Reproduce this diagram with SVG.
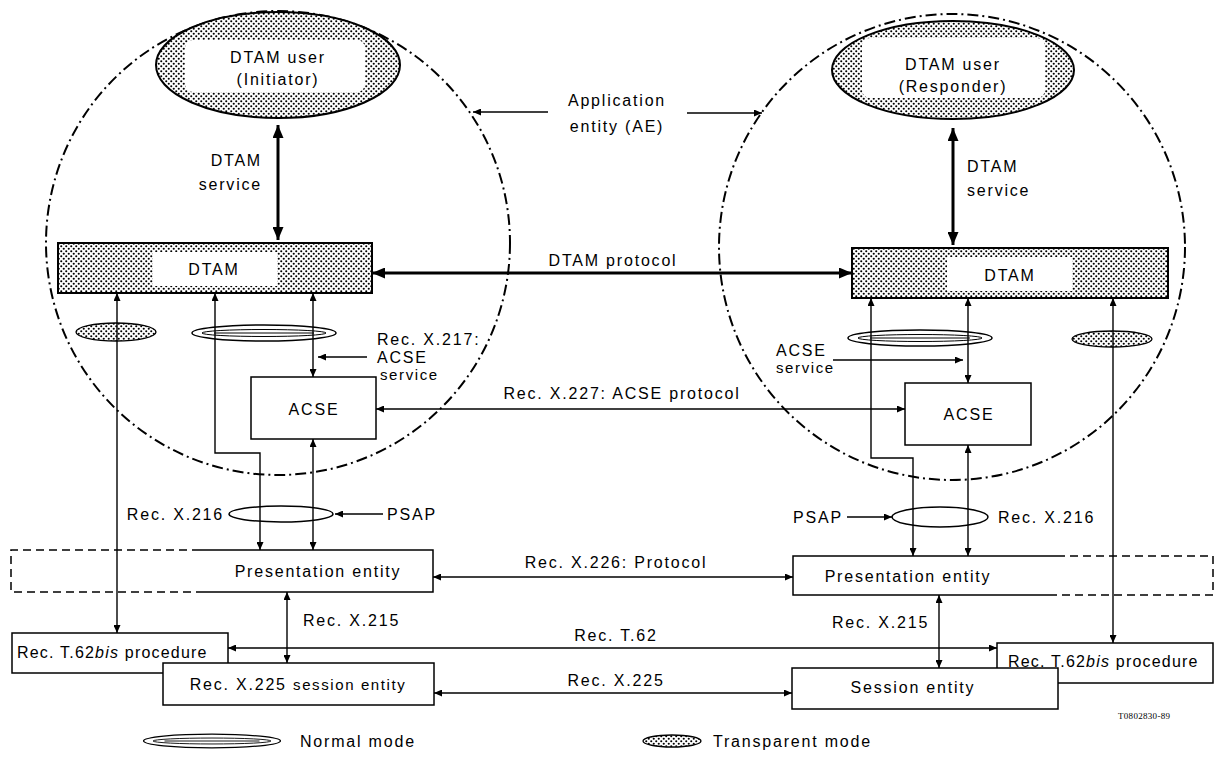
<svg xmlns="http://www.w3.org/2000/svg" xmlns:xlink="http://www.w3.org/1999/xlink" width="1215" height="765" viewBox="0 0 1215 765">
<style>
text{font-family:"Liberation Sans",Arial,sans-serif;font-size:16px;fill:#000;letter-spacing:1.8px}
.sm{font-size:15px;letter-spacing:1.6px}
.t62{letter-spacing:1.2px}
.tiny{font-size:9px;letter-spacing:0.3px;font-family:"Liberation Serif",serif}
.mid{text-anchor:middle}
.end{text-anchor:end}
.ae{fill:none;stroke:#000;stroke-width:2;stroke-dasharray:11 4 2 4}
.box{fill:#fff;stroke:#000;stroke-width:1.5}
.open{fill:none;stroke:#000;stroke-width:1.5}
.dash{fill:none;stroke:#000;stroke-width:1.5;stroke-dasharray:8 5}
.pat{fill:url(#dots);stroke:#000;stroke-width:2}
.trans{fill:url(#dots);stroke:#000;stroke-width:1.3}
.white{fill:#fff;stroke:none}
.thin{fill:none;stroke:#000;stroke-width:1.4;marker-start:url(#as);marker-end:url(#as)}
.one{fill:none;stroke:#000;stroke-width:1.4;marker-end:url(#as)}
.thick{fill:none;stroke:#000;stroke-width:3;marker-start:url(#ah);marker-end:url(#ah)}
</style>
<defs>
<pattern id="dots" width="5" height="5" patternUnits="userSpaceOnUse">
<rect width="5" height="5" fill="#fff"/>
<circle cx="1.25" cy="1.25" r="1.05" fill="#000"/>
<circle cx="3.75" cy="3.75" r="1.05" fill="#000"/>
</pattern>
<marker id="ah" viewBox="0 0 13 11" refX="13" refY="5.5" markerWidth="13" markerHeight="11" markerUnits="userSpaceOnUse" orient="auto-start-reverse">
<path d="M0,0 L13,5.5 L0,11 z" fill="#000"/>
</marker>
<marker id="as" viewBox="0 0 8 7" refX="8" refY="3.5" markerWidth="8" markerHeight="7" markerUnits="userSpaceOnUse" orient="auto-start-reverse">
<path d="M0,0 L8,3.5 L0,7 z" fill="#000"/>
</marker>
<g id="nm">
<ellipse cx="0" cy="0" rx="72" ry="8" fill="#fff" stroke="#000" stroke-width="1.5"/>
<ellipse cx="0" cy="0" rx="62" ry="3.5" fill="none" stroke="#000" stroke-width="1"/>
<line x1="-50" y1="0" x2="50" y2="0" stroke="#000" stroke-width="1"/>
</g>
</defs>

<g id="ae-left"><circle class="ae" cx="278" cy="243" r="232"/></g>
<g id="ae-right"><circle class="ae" cx="952" cy="247" r="233"/></g>

<g id="user-initiator">
<ellipse class="pat" cx="278" cy="65" rx="122" ry="53"/>
<rect class="white" x="185" y="40" width="180" height="52" rx="8"/>
<text class="mid" x="278" y="63">DTAM user</text>
<text class="mid" x="278" y="85">(Initiator)</text>
</g>
<g id="user-responder">
<ellipse class="pat" cx="953" cy="70" rx="121" ry="49"/>
<rect class="white" x="862" y="38" width="183" height="60" rx="8"/>
<text class="mid" x="953" y="70">DTAM user</text>
<text class="mid" x="953" y="92">(Responder)</text>
</g>

<g id="dtam-left">
<rect class="pat" x="58" y="243" width="314" height="50"/>
<rect class="white" x="153" y="252" width="124" height="34"/>
<text class="mid" x="214" y="275">DTAM</text>
</g>
<g id="dtam-right">
<rect class="pat" x="852" y="248" width="316" height="50"/>
<rect class="white" x="947" y="257" width="125" height="34"/>
<text class="mid" x="1010" y="281">DTAM</text>
</g>

<g id="acse-left">
<rect class="box" x="251" y="377" width="125" height="62"/>
<text class="mid" x="314" y="415">ACSE</text>
</g>
<g id="acse-right">
<rect class="box" x="905" y="383" width="126" height="62"/>
<text class="mid" x="969" y="420">ACSE</text>
</g>

<g id="modes-left">
<ellipse class="trans" cx="116" cy="332" rx="40" ry="9"/>
<use xlink:href="#nm" href="#nm" x="264" y="333"/>
<ellipse class="open" cx="281" cy="514" rx="52" ry="8"/>
</g>
<g id="modes-right">
<ellipse class="trans" cx="1112" cy="339" rx="40" ry="8"/>
<use xlink:href="#nm" href="#nm" x="920" y="338"/>
<ellipse class="open" cx="940" cy="517" rx="48" ry="10"/>
</g>

<g id="pres-left">
<path class="dash" d="M200,550 H11 V592 H200"/>
<path class="open" d="M200,550 H433 V592 H200"/>
<text class="mid" x="318" y="577">Presentation entity</text>
</g>
<g id="pres-right">
<path class="open" d="M1057,556 H793 V595 H1057"/>
<path class="dash" d="M1057,556 H1213 V595 H1057"/>
<text class="mid" x="908" y="582">Presentation entity</text>
</g>

<g id="t62-left">
<rect class="box" x="12" y="633" width="216" height="40"/>
<text class="t62" x="17" y="658">Rec. T.62<tspan font-style="italic">bis</tspan> procedure</text>
</g>
<g id="t62-right">
<rect class="box" x="997" y="643" width="216" height="40"/>
<text class="t62" x="1008" y="667">Rec. T.62<tspan font-style="italic">bis</tspan> procedure</text>
</g>
<g id="session-left">
<rect class="box" x="163" y="663" width="271" height="42"/>
<text class="mid" x="298" y="690">Rec. X.225 <tspan class="sm">session entity</tspan></text>
</g>
<g id="session-right">
<rect class="box" x="792" y="668" width="266" height="41"/>
<text class="mid" x="913" y="693">Session entity</text>
</g>

<g id="connectors">
<path class="thick" d="M278,125 V240"/>
<path class="thick" d="M953,128 V245"/>
<path class="thick" d="M372,273 H852"/>
<path class="one" d="M548,112 H473"/>
<path class="one" d="M687,113 H762"/>
<path class="thin" d="M117,293 V633"/>
<path class="thin" d="M215,293 V453 H260 V550"/>
<path class="thin" d="M313,293 V377"/>
<path class="thin" d="M313,439 V550"/>
<path class="one" d="M367,357 H318"/>
<path class="thin" d="M871,298 V458 H913 V556"/>
<path class="thin" d="M968,298 V383"/>
<path class="thin" d="M968,445 V556"/>
<path class="thin" d="M1113,298 V643"/>
<path class="one" d="M833,360 H963"/>
<path class="thin" d="M376,409 H905"/>
<path class="one" d="M383,514 H335"/>
<path class="one" d="M847,517 H892"/>
<path class="thin" d="M433,577 H793"/>
<path class="thin" d="M287,592 V663"/>
<path class="thin" d="M939,595 V668"/>
<path class="thin" d="M228,648 H997"/>
<path class="thin" d="M434,693 H792"/>
</g>

<g id="labels">
<text class="mid" x="617" y="106">Application</text>
<text class="mid" x="617" y="132">entity (AE)</text>
<text class="end" x="262" y="166">DTAM</text>
<text class="end" x="262" y="190">service</text>
<text x="967" y="172">DTAM</text>
<text x="967" y="196">service</text>
<text class="mid" x="613" y="266">DTAM protocol</text>
<text x="377" y="345">Rec. X.217:</text>
<text x="377" y="363">ACSE</text>
<text class="sm" x="380" y="380">service</text>
<text x="776" y="356">ACSE</text>
<text class="sm" x="776" y="373">service</text>
<text class="mid" x="622" y="399">Rec. X.227: ACSE protocol</text>
<text class="end" x="224" y="520">Rec. X.216</text>
<text x="387" y="520">PSAP</text>
<text class="end" x="843" y="523">PSAP</text>
<text x="998" y="523">Rec. X.216</text>
<text class="mid" x="616" y="568">Rec. X.226: Protocol</text>
<text x="303" y="626">Rec. X.215</text>
<text x="832" y="628">Rec. X.215</text>
<text class="mid" x="616" y="641">Rec. T.62</text>
<text class="mid" x="616" y="686">Rec. X.225</text>
<text class="tiny" x="1118" y="719">T0802830-89</text>
</g>

<g id="legend">
<use xlink:href="#nm" href="#nm" transform="translate(212,741) scale(0.95,0.85)"/>
<text x="300" y="747">Normal mode</text>
<ellipse class="trans" cx="672" cy="741" rx="29" ry="6"/>
<text x="713" y="747">Transparent mode</text>
</g>
</svg>
